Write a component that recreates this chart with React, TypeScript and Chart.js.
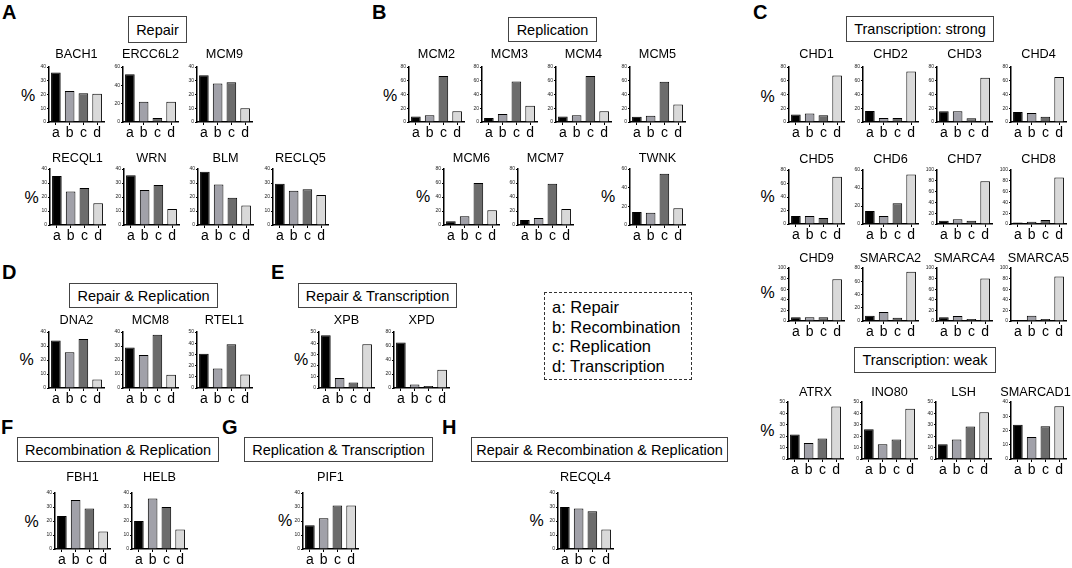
import React, { useEffect, useRef } from "react";
import { Chart, registerables } from "chart.js";

Chart.register(...registerables);

// ---------- data ----------
const CATEGORIES = ["a", "b", "c", "d"];

// Repair
const BACH1 = [36, 22.5, 21, 20.5];
const ERCC6L2 = [52, 22, 4.5, 22];
const MCM9 = [34, 28, 29, 10];
const RECQL1 = [35, 24, 26.5, 15.5];
const WRN = [35.5, 25, 28.5, 11.5];
const BLM = [38, 29, 19.5, 14];
const RECLQ5 = [29.5, 24.5, 25.5, 21.5];
// Replication
const MCM2 = [8, 10, 67, 15.5];
const MCM3 = [6, 11.5, 59, 23.5];
const MCM4 = [8, 10, 67, 15.5];
const MCM5 = [7.5, 9, 58.5, 25.5];
const MCM6 = [5.5, 12.5, 60, 21];
const MCM7 = [7, 10, 59, 23];
const TWNK = [14, 13, 55, 18];
// Transcription: strong
const CHD1 = [11, 12.5, 10, 67.5];
const CHD2 = [16, 6, 6, 73.5];
const CHD3 = [15.5, 15.5, 5.5, 64.5];
const CHD4 = [14.5, 13, 7.5, 65.5];
const CHD5 = [12, 12, 9, 70];
const CHD6 = [14.5, 9, 23, 55];
const CHD7 = [6, 9, 6, 79];
const CHD8 = [3, 4, 7.5, 86];
const CHD9 = [7, 7, 7, 79];
const SMARCA2 = [8, 13.5, 5, 74.5];
const SMARCA4 = [7, 9.5, 4, 80];
const SMARCA5 = [2, 10, 4, 84];
// Transcription: weak
const ATRX = [21.5, 14, 18, 46];
const INO80 = [26, 13, 17, 44];
const LSH = [13, 17, 28.5, 41];
const SMARCAD1 = [24, 15.5, 23, 37];
// Repair & Replication
const DNA2 = [34, 25.5, 35, 6];
const MCM8 = [29, 23.5, 38, 9.5];
const RTEL1 = [30.5, 17.5, 39, 12];
// Repair & Transcription
const XPB = [47, 9, 5, 39];
const XPD = [65, 5, 3, 26];
// Recombination & Replication
const FBH1 = [23.5, 35, 29, 12.5];
const HELB = [20, 36, 30, 14];
// Replication & Transcription
const PIF1 = [17, 22, 31, 31];
// Repair & Recombination & Replication
const RECQL4 = [30, 29, 27, 14];

const LEGEND_LINES = ["a: Repair", "b: Recombination", "c: Replication", "d: Transcription"];

// ---------- styles / layout ----------
const FONT = "'Liberation Sans', Arial, Helvetica, sans-serif";
const BAR_COLORS = ["#000000", "#a1a1a9", "#6c6c6c", "#d9d9d9"];
const PLOT_W = 55;
const Y_AXIS_W = 16;
const X_AXIS_H = 21;
const PAD_L = 10;
const PAD_R = 16;
const TITLE_SIZE = 12.7;

type Row = { top: number; bottom: number; titleY: number };
const R1: Row = { top: 67, bottom: 122, titleY: 54.5 };
const R2: Row = { top: 169, bottom: 225, titleY: 158.5 };
const RC2: Row = { top: 170, bottom: 224, titleY: 159.5 };
const RC3: Row = { top: 268, bottom: 321, titleY: 258.5 };
const RC4: Row = { top: 402, bottom: 459, titleY: 392 };
const RDE: Row = { top: 332, bottom: 388, titleY: 320.5 };
const RFGH: Row = { top: 493, bottom: 549, titleY: 477 };

type Spec = { name: string; values: number[]; max: number; step: number; x: number; row: Row; dx?: number };

const CHARTS: Spec[] = [
  { name: "BACH1", values: BACH1, max: 40, step: 10, x: 49, row: R1 },
  { name: "ERCC6L2", values: ERCC6L2, max: 60, step: 20, x: 123, row: R1 },
  { name: "MCM9", values: MCM9, max: 40, step: 10, x: 197, row: R1 },
  { name: "RECQL1", values: RECQL1, max: 40, step: 10, x: 50, row: R2 },
  { name: "WRN", values: WRN, max: 40, step: 10, x: 124, row: R2 },
  { name: "BLM", values: BLM, max: 40, step: 10, x: 198, row: R2 },
  { name: "RECLQ5", values: RECLQ5, max: 40, step: 10, x: 273, row: R2 },

  { name: "MCM2", values: MCM2, max: 80, step: 20, x: 409, row: R1 },
  { name: "MCM3", values: MCM3, max: 80, step: 20, x: 482, row: R1 },
  { name: "MCM4", values: MCM4, max: 80, step: 20, x: 556, row: R1 },
  { name: "MCM5", values: MCM5, max: 80, step: 20, x: 630, row: R1 },
  { name: "MCM6", values: MCM6, max: 80, step: 20, x: 444, row: R2 },
  { name: "MCM7", values: MCM7, max: 80, step: 20, x: 518, row: R2 },
  { name: "TWNK", values: TWNK, max: 60, step: 20, x: 630, row: R2 },

  { name: "CHD1", values: CHD1, max: 80, step: 20, x: 789, row: R1 },
  { name: "CHD2", values: CHD2, max: 80, step: 20, x: 863, row: R1 },
  { name: "CHD3", values: CHD3, max: 80, step: 20, x: 937, row: R1 },
  { name: "CHD4", values: CHD4, max: 80, step: 20, x: 1011, row: R1 },
  { name: "CHD5", values: CHD5, max: 80, step: 20, x: 789, row: RC2 },
  { name: "CHD6", values: CHD6, max: 60, step: 20, x: 863, row: RC2 },
  { name: "CHD7", values: CHD7, max: 100, step: 20, x: 937, row: RC2 },
  { name: "CHD8", values: CHD8, max: 100, step: 20, x: 1011, row: RC2 },
  { name: "CHD9", values: CHD9, max: 100, step: 20, x: 789, row: RC3 },
  { name: "SMARCA2", values: SMARCA2, max: 80, step: 20, x: 863, row: RC3 },
  { name: "SMARCA4", values: SMARCA4, max: 100, step: 20, x: 937, row: RC3 },
  { name: "SMARCA5", values: SMARCA5, max: 100, step: 20, x: 1011, row: RC3 },
  { name: "ATRX", values: ATRX, max: 50, step: 10, x: 788, row: RC4 },
  { name: "INO80", values: INO80, max: 50, step: 10, x: 862, row: RC4 },
  { name: "LSH", values: LSH, max: 50, step: 10, x: 936, row: RC4 },
  { name: "SMARCAD1", values: SMARCAD1, max: 40, step: 10, x: 1011, row: RC4, dx: -3 },

  { name: "DNA2", values: DNA2, max: 40, step: 10, x: 49, row: RDE },
  { name: "MCM8", values: MCM8, max: 40, step: 10, x: 123, row: RDE },
  { name: "RTEL1", values: RTEL1, max: 50, step: 10, x: 197, row: RDE },
  { name: "XPB", values: XPB, max: 50, step: 10, x: 319, row: RDE },
  { name: "XPD", values: XPD, max: 80, step: 20, x: 394, row: RDE },

  { name: "FBH1", values: FBH1, max: 40, step: 10, x: 55, row: RFGH },
  { name: "HELB", values: HELB, max: 40, step: 10, x: 132, row: RFGH },
  { name: "PIF1", values: PIF1, max: 40, step: 10, x: 303, row: RFGH },
  { name: "RECQL4", values: RECQL4, max: 40, step: 10, x: 558, row: RFGH },
];

const HEADERS = [
  { text: "Repair", x: 128, y: 16, w: 59, h: 27 },
  { text: "Replication", x: 508, y: 17, w: 89, h: 25 },
  { text: "Transcription: strong", x: 846, y: 16, w: 148, h: 26 },
  { text: "Transcription: weak", x: 854, y: 347, w: 142, h: 26 },
  { text: "Repair & Replication", x: 69, y: 283, w: 149, h: 25 },
  { text: "Repair & Transcription", x: 298, y: 283, w: 159, h: 25 },
  { text: "Recombination & Replication", x: 17, y: 437, w: 202, h: 25 },
  { text: "Replication & Transcription", x: 244, y: 437, w: 189, h: 25 },
  { text: "Repair & Recombination & Replication", x: 471, y: 437, w: 257, h: 25 },
];

const LETTERS = [
  { t: "A", x: 2, y: 1.8 },
  { t: "B", x: 372, y: 1.8 },
  { t: "C", x: 753, y: 1.8 },
  { t: "D", x: 2, y: 261.5 },
  { t: "E", x: 271, y: 261.5 },
  { t: "F", x: 1, y: 416.5 },
  { t: "G", x: 222, y: 416.5 },
  { t: "H", x: 442, y: 416.5 },
];

const PERCENTS = [
  [28, 96], [31.5, 198], [390, 96], [423, 197], [608, 197],
  [767.5, 96.5], [767.5, 197], [767.5, 292.5], [767.3, 430.5],
  [26.7, 360], [301, 359.5], [31.7, 521.7], [285, 520.5], [536.7, 520.7],
];

// draws the gene name centred over the plot area, without squeezing it
const geneTitlePlugin = {
  id: "geneTitle",
  afterDraw(chart: any, _args: any, opts: any) {
    const { ctx, chartArea } = chart;
    ctx.save();
    ctx.font = `${TITLE_SIZE}px ${FONT}`;
    ctx.fillStyle = "#000";
    ctx.textAlign = "center";
    ctx.textBaseline = "middle";
    ctx.fillText(opts.text, (chartArea.left + chartArea.right) / 2 + (opts.dx || 0), chartArea.top - opts.gap);
    ctx.restore();
  },
};

function MiniBar({ spec }: { spec: Spec }) {
  const ref = useRef<HTMLCanvasElement>(null);
  const canvasTop = Math.round(spec.row.titleY - 10);
  const padTop = spec.row.top - canvasTop;
  const plotH = spec.row.bottom - spec.row.top;
  const W = PAD_L + Y_AXIS_W + PLOT_W + PAD_R;
  const H = padTop + plotH + X_AXIS_H;

  useEffect(() => {
    if (!ref.current) return;
    const chart = new Chart(ref.current, {
      type: "bar",
      data: {
        labels: CATEGORIES,
        datasets: [
          {
            data: spec.values,
            backgroundColor: BAR_COLORS,
            borderColor: "#000",
            borderWidth: 1,
            categoryPercentage: 1,
            barPercentage: 0.7,
          },
        ],
      },
      plugins: [geneTitlePlugin],
      options: {
        animation: false,
        responsive: false,
        events: [],
        layout: { padding: { left: PAD_L, right: PAD_R, top: padTop, bottom: 0 } },
        plugins: {
          legend: { display: false },
          tooltip: { enabled: false },
          title: { display: false },
          geneTitle: { text: spec.name, gap: spec.row.top - spec.row.titleY, dx: spec.dx || 0 },
        },
        scales: {
          x: {
            offset: true,
            grid: { display: true, drawOnChartArea: false, offset: false, tickLength: 3, color: "#000", lineWidth: 1 },
            border: { display: true, color: "#000", width: 1.5 },
            ticks: { font: { family: FONT, size: 14 }, color: "#000", padding: 0, maxRotation: 0, autoSkip: false },
            afterFit: (s: any) => {
              s.height = X_AXIS_H;
            },
          },
          y: {
            min: 0,
            max: spec.max,
            ticks: { stepSize: spec.step, font: { family: FONT, size: 5 }, color: "#222", padding: 1 },
            grid: { display: true, drawOnChartArea: false, tickLength: 2, color: "#000", lineWidth: 1 },
            border: { display: true, color: "#000", width: 1.5 },
            afterFit: (s: any) => {
              s.width = Y_AXIS_W;
            },
          },
        },
      } as any,
    });
    return () => chart.destroy();
  }, []);

  return (
    <canvas
      ref={ref}
      width={W}
      height={Math.round(H)}
      style={{
        position: "absolute",
        left: spec.x - Y_AXIS_W - PAD_L,
        top: canvasTop,
        width: W,
        height: Math.round(H),
      }}
    />
  );
}

export default function App() {
  return (
    <div
      style={{
        position: "absolute",
        left: 0,
        top: 0,
        width: 1072,
        height: 568,
        background: "#fff",
        fontFamily: FONT,
        color: "#000",
        overflow: "hidden",
      }}
    >
      {LETTERS.map((l) => (
        <div
          key={l.t}
          style={{ position: "absolute", left: l.x, top: l.y, fontSize: 20, fontWeight: "bold", lineHeight: 1 }}
        >
          {l.t}
        </div>
      ))}
      {HEADERS.map((h) => (
        <div
          key={h.text}
          style={{
            position: "absolute",
            left: h.x,
            top: h.y,
            width: h.w,
            height: h.h,
            boxSizing: "border-box",
            border: "1px solid #444",
            display: "flex",
            alignItems: "center",
            justifyContent: "center",
            fontSize: 14.5,
            whiteSpace: "nowrap",
          }}
        >
          {h.text}
        </div>
      ))}
      {PERCENTS.map(([x, y], i) => (
        <div
          key={i}
          style={{
            position: "absolute",
            left: x,
            top: y,
            transform: "translate(-50%, -50%)",
            fontSize: 16,
            lineHeight: 1,
          }}
        >
          %
        </div>
      ))}
      <div
        style={{
          position: "absolute",
          left: 544,
          top: 292,
          width: 148,
          height: 88,
          boxSizing: "border-box",
          border: "1.5px dashed #333",
          padding: "5px 0 0 7px",
          fontSize: 16.5,
          lineHeight: "19.6px",
          whiteSpace: "nowrap",
        }}
      >
        {LEGEND_LINES.map((t) => (
          <div key={t}>{t}</div>
        ))}
      </div>
      {CHARTS.map((s) => (
        <MiniBar key={s.name} spec={s} />
      ))}
    </div>
  );
}
